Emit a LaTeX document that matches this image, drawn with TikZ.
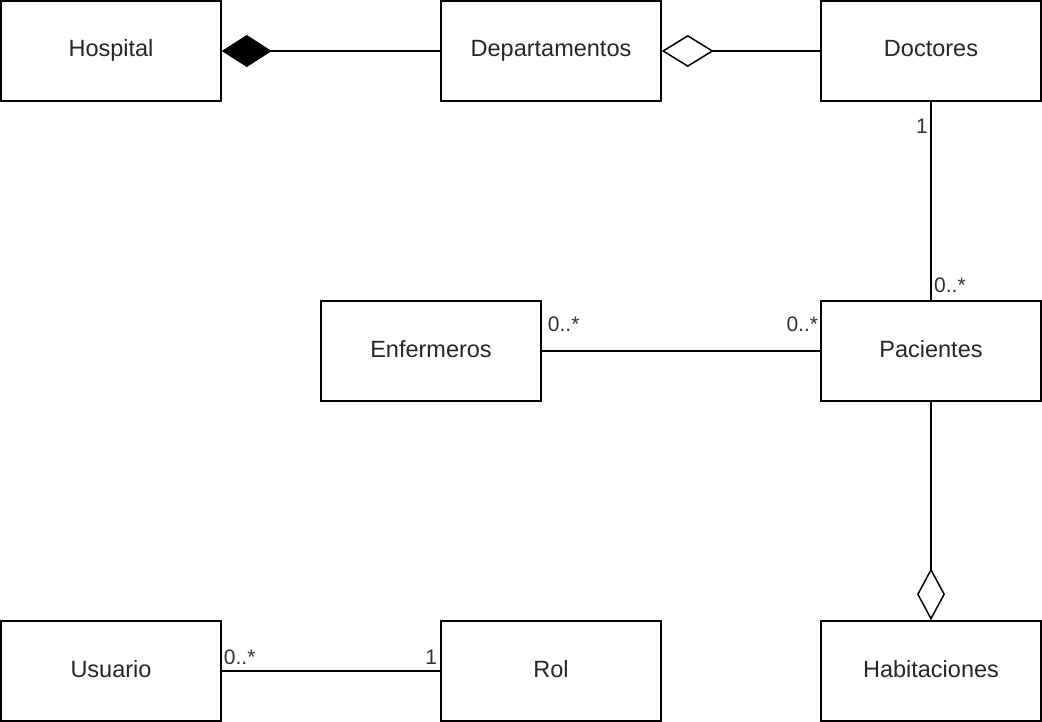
\documentclass[tikz,border=0pt]{standalone}
\usepackage{fontspec}
\setmainfont{Liberation Sans}
\usetikzlibrary{arrows.meta}
\begin{document}
\begin{tikzpicture}[x=1pt,y=-1pt,
  cls/.style={draw,line width=1.5pt,minimum width=220pt,minimum height=100pt,inner sep=0pt,text height=17pt,text depth=5pt,font=\fontsize{23.5}{28}\selectfont,text=black!85},
  conn/.style={line width=1.5pt},
  mult/.style={font=\fontsize{21}{25}\selectfont,text=black!80,inner sep=0pt},
  comp/.style={-{Diamond[length=50pt,width=32pt,line width=1.5pt]}},
  aggr/.style={-{Diamond[open,fill=white,length=52pt,width=32pt,line width=1.5pt]}},
  aggrv/.style={-{Diamond[open,fill=white,length=52pt,width=28pt,line width=1.5pt]}}]
\useasboundingbox (0,0) rectangle (1042,722);
\node[cls] (hospital) at (111,51) {Hospital};
\node[cls] (depto) at (551,51) {Departamentos};
\node[cls] (doctores) at (931,51) {Doctores};
\node[cls] (enfermeros) at (431,351) {Enfermeros};
\node[cls] (pacientes) at (931,351) {Pacientes};
\node[cls] (usuario) at (111,671) {Usuario};
\node[cls] (rol) at (551,671) {Rol};
\node[cls] (habit) at (931,671) {Habitaciones};

\draw[conn,comp] (depto) -- (hospital);
\draw[conn,aggr] (doctores) -- (depto);
\draw[conn] (doctores) -- (pacientes);
\draw[conn] (enfermeros) -- (pacientes);
\draw[conn,aggrv] (pacientes) -- (habit);
\draw[conn] (usuario) -- (rol);

\node[mult,anchor=south east] (m1) at ([xshift=-3pt,yshift=-32pt]doctores.south) {1};
\node[mult,anchor=south west] (m2) at ([xshift=3pt,yshift=7pt]pacientes.north) {0..*};
\node[mult,anchor=south west] (m3) at ([xshift=6pt,yshift=-32pt]enfermeros.north east) {0..*};
\node[mult,anchor=south east] (m4) at ([xshift=-2pt,yshift=-32pt]pacientes.north west) {0..*};
\node[mult,anchor=south west] (m5) at ([xshift=2pt,yshift=6pt]usuario.east) {0..*};
\node[mult,anchor=south east] (m6) at ([xshift=-3pt,yshift=6pt]rol.west) {1};
\end{tikzpicture}
\end{document}
